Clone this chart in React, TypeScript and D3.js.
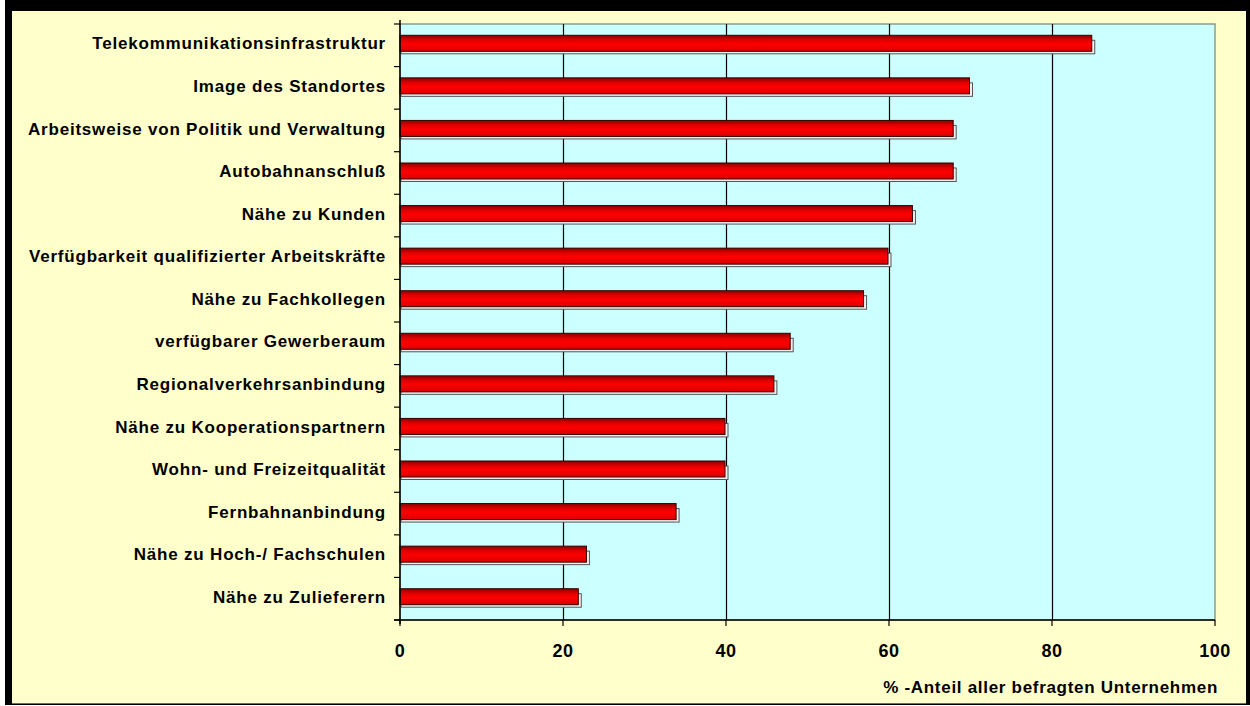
import React, { useEffect, useRef } from "react";
import * as d3 from "d3";

const categories = [
  "Telekommunikationsinfrastruktur",
  "Image des Standortes",
  "Arbeitsweise von Politik und Verwaltung",
  "Autobahnanschluß",
  "Nähe zu Kunden",
  "Verfügbarkeit qualifizierter Arbeitskräfte",
  "Nähe zu Fachkollegen",
  "verfügbarer Gewerberaum",
  "Regionalverkehrsanbindung",
  "Nähe zu Kooperationspartnern",
  "Wohn- und Freizeitqualität",
  "Fernbahnanbindung",
  "Nähe zu Hoch-/ Fachschulen",
  "Nähe zu Zulieferern",
];
const values = [85, 70, 68, 68, 63, 60, 57, 48, 46, 40, 40, 34, 23, 22];
const xTicks = [0, 20, 40, 60, 80, 100];
const axisTitle = "% -Anteil aller befragten Unternehmen";

const W = 1250;
const H = 706;
const FONT = "'Liberation Sans', Arial, sans-serif";

export default function App() {
  const svgRef = useRef<SVGSVGElement>(null);

  useEffect(() => {
    if (!svgRef.current) return;
    const svg = d3.select(svgRef.current);
    svg.selectAll("*").remove();

    const plot = { left: 400, right: 1215, top: 24, bottom: 620 };

    const x = d3.scaleLinear().domain([0, 100]).range([plot.left, plot.right]);
    const y = d3.scaleBand<string>().domain(categories).range([plot.top, plot.bottom]);

    // gradient for the red bars
    const defs = svg.append("defs");
    const grad = defs.append("linearGradient")
      .attr("id", "barRed")
      .attr("x1", 0).attr("y1", 0).attr("x2", 0).attr("y2", 1);
    grad.append("stop").attr("offset", "0%").attr("stop-color", "#8a0000");
    grad.append("stop").attr("offset", "30%").attr("stop-color", "#e00000");
    grad.append("stop").attr("offset", "55%").attr("stop-color", "#ff0000");
    grad.append("stop").attr("offset", "100%").attr("stop-color", "#d80000");

    // frame
    svg.append("rect").attr("width", W).attr("height", H).attr("fill", "#fff");
    svg.append("rect").attr("x", 5).attr("y", 0).attr("width", W - 5).attr("height", H - 1).attr("fill", "#000");
    svg.append("rect").attr("x", 12).attr("y", 11).attr("width", W - 16).attr("height", H - 14).attr("fill", "#ffffcc");
    svg.append("line")
      .attr("x1", 12).attr("x2", W - 4).attr("y1", H - 2.5).attr("y2", H - 2.5)
      .attr("stroke", "#6b6b6b").attr("stroke-width", 1);

    // plot area
    svg.append("rect")
      .attr("x", plot.left).attr("y", plot.top)
      .attr("width", plot.right - plot.left).attr("height", plot.bottom - plot.top)
      .attr("fill", "#ccffff")
      .attr("stroke", "#8c9c8c").attr("stroke-width", 1.5);

    // vertical gridlines
    svg.append("g")
      .selectAll("line")
      .data(xTicks.filter(t => t > 0 && t < 100))
      .enter()
      .append("line")
      .attr("x1", d => Math.round(x(d)) + 0.5).attr("x2", d => Math.round(x(d)) + 0.5)
      .attr("y1", plot.top).attr("y2", plot.bottom)
      .attr("stroke", "#000").attr("stroke-width", 1.2);

    // bars: light shadow strip + red body
    const bars = svg.append("g");
    categories.forEach((c, i) => {
      const cy = (y(c) || 0) + y.bandwidth() / 2;
      const xEnd = x(values[i]);
      bars.append("rect")
        .attr("x", plot.left + 1).attr("y", cy - 5)
        .attr("width", xEnd - plot.left + 1).attr("height", 13.5)
        .attr("fill", "#f5f0f0")
        .attr("stroke", "#555").attr("stroke-width", 1);
      bars.append("rect")
        .attr("x", plot.left).attr("y", cy - 10)
        .attr("width", xEnd - plot.left - 1).attr("height", 16)
        .attr("fill", "url(#barRed)")
        .attr("stroke", "#300").attr("stroke-width", 1);
    });

    // y axis line & ticks
    svg.append("line")
      .attr("x1", plot.left).attr("x2", plot.left)
      .attr("y1", plot.top - 4).attr("y2", plot.bottom + 4)
      .attr("stroke", "#000").attr("stroke-width", 1.5);
    const bounds = d3.range(categories.length + 1).map(i => plot.top + i * y.step());
    svg.append("g")
      .selectAll("line")
      .data(bounds)
      .enter()
      .append("line")
      .attr("x1", plot.left - 6).attr("x2", plot.left)
      .attr("y1", d => d).attr("y2", d => d)
      .attr("stroke", "#000").attr("stroke-width", 1.2);

    // x axis
    svg.append("line")
      .attr("x1", plot.left - 6).attr("x2", plot.right)
      .attr("y1", plot.bottom).attr("y2", plot.bottom)
      .attr("stroke", "#000").attr("stroke-width", 1.5);
    svg.append("g")
      .selectAll("line")
      .data(xTicks)
      .enter()
      .append("line")
      .attr("x1", d => x(d)).attr("x2", d => x(d))
      .attr("y1", plot.bottom).attr("y2", plot.bottom + 6)
      .attr("stroke", "#000").attr("stroke-width", 1.2);

    svg.append("g")
      .selectAll("text")
      .data(xTicks)
      .enter()
      .append("text")
      .attr("x", d => x(d))
      .attr("y", 657)
      .attr("text-anchor", "middle")
      .attr("font-family", FONT)
      .attr("font-weight", "bold")
      .attr("font-size", 18)
      .attr("letter-spacing", 0.5)
      .attr("fill", "#000")
      .text(d => d);

    // category labels
    svg.append("g")
      .selectAll("text")
      .data(categories)
      .enter()
      .append("text")
      .attr("x", 386)
      .attr("y", d => (y(d) || 0) + y.bandwidth() / 2)
      .attr("dy", "0.24em")
      .attr("text-anchor", "end")
      .attr("font-family", FONT)
      .attr("font-weight", "bold")
      .attr("font-size", 17)
      .attr("letter-spacing", 0.8)
      .attr("fill", "#000")
      .text(d => d);

    // axis title
    svg.append("text")
      .attr("x", 1218)
      .attr("y", 693)
      .attr("text-anchor", "end")
      .attr("font-family", FONT)
      .attr("font-weight", "bold")
      .attr("font-size", 17)
      .attr("letter-spacing", 0.7)
      .attr("fill", "#000")
      .text(axisTitle);
  }, []);

  return (
    <div style={{ position: "fixed", left: 0, top: 0, width: W, height: H }}>
      <svg ref={svgRef} width={W} height={H} viewBox={`0 0 ${W} ${H}`} style={{ display: "block" }} />
    </div>
  );
}
